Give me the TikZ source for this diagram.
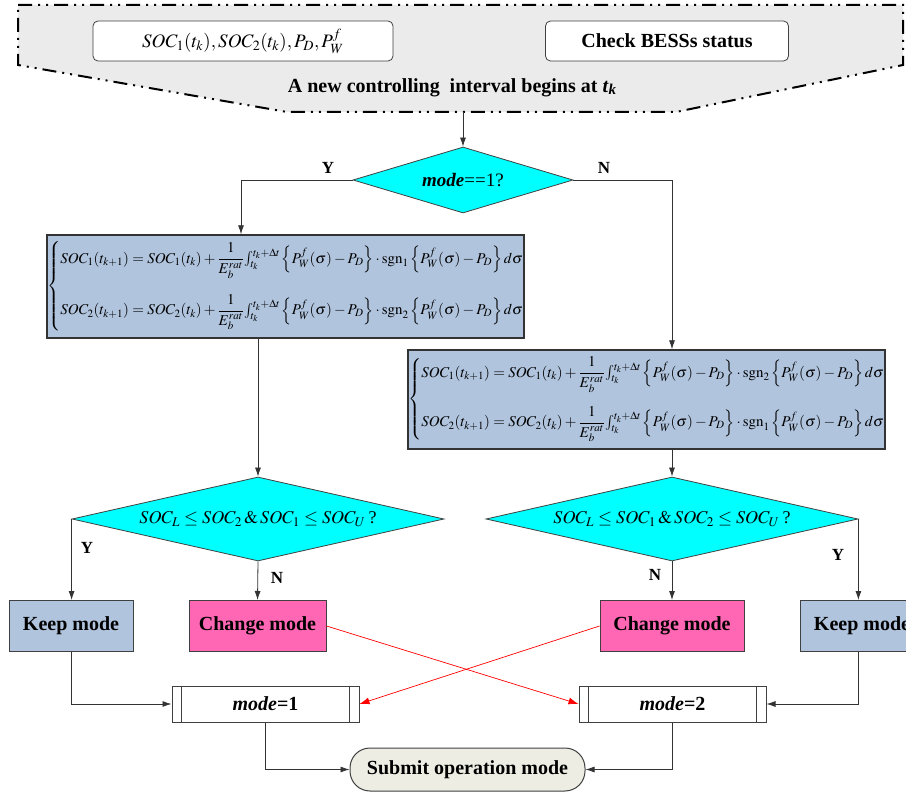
\documentclass[tikz,border=0pt]{standalone}
\usepackage{amsmath}
\usepackage{mathptmx}
\usepackage{fontspec}
\setmainfont{Liberation Serif}
\usetikzlibrary{shapes.geometric,arrows.meta,calc}
\definecolor{steel}{HTML}{B0C4DE}
\definecolor{hotpink}{HTML}{FF66B3}
\definecolor{aqua}{HTML}{00FFFF}
\definecolor{bannergray}{HTML}{EBEBEB}
\definecolor{subgray}{HTML}{EDEDE4}
\newcommand{\myeqline}[2]{SOC_{#1}(t_{k+1}) = SOC_{#1}(t_k) + \dfrac{1}{E_b^{rat}}{\textstyle\int_{t_k}^{t_k+\Delta t}}\left\{P_W^f(\sigma)-P_D\right\}\cdot\mathrm{sgn}_{#2}\left\{P_W^f(\sigma)-P_D\right\}d\sigma}
\begin{document}
\begin{tikzpicture}[x=1pt,y=-1pt,
  conn/.style={draw=black!80, line width=0.8pt, -{Latex[length=9pt,width=6pt]}},
  redconn/.style={draw=red, line width=0.7pt, -{Latex[length=10pt,width=7pt]}},
  box/.style={draw=black!75, line width=1pt, inner sep=0pt, font=\fontsize{20}{24}\selectfont\bfseries},
  inbox/.style={draw=black!75, line width=0.8pt, rounded corners=5pt, fill=white, inner sep=0pt},
  eqbox/.style={draw=black!80, line width=1.4pt, fill=steel, inner sep=0pt, font=\fontsize{15}{18}\selectfont},
  dia/.style={diamond, draw=black!75, line width=0.8pt, fill=aqua, inner sep=0pt},
  modebox/.style={box, fill=white, minimum width=187pt, minimum height=36pt},
  lab/.style={font=\fontsize{17}{20}\selectfont\bfseries},
]
\useasboundingbox (0,0) rectangle (906,794);

% banner
\filldraw[fill=bannergray, draw=black, line width=2pt,
  dash pattern=on 14pt off 6pt on 2pt off 6pt on 2pt off 6pt]
  (18,5) -- (903,5) -- (903,65) -- (676,112) -- (287,112) -- (18,65) -- cycle;
\coordinate (bb) at (463,112);
\node[inbox, minimum width=300pt, minimum height=40pt, font=\fontsize{19}{22}\selectfont] (soc) at (243,41)
  {$SOC_1(t_k), SOC_2(t_k), P_D, P_W^f$};
\node[inbox, minimum width=243pt, minimum height=40pt, font=\fontsize{20}{24}\selectfont\bfseries] (chk) at (667,41)
  {Check BESSs status};
\node[font=\fontsize{20}{24}\selectfont\bfseries] (title) at (452,88)
  {A new controlling\ \ interval begins at \textit{t}\raisebox{-2pt}{\fontsize{15}{15}\selectfont\textit{k}}};

% first decision
\node[dia, minimum width=220pt, minimum height=66pt, shape aspect=3.3, font=\fontsize{19}{22}\selectfont] (d1) at (463,180)
  {\textbf{\textit{mode}}==1?};
\node[lab] (y1) at (328,168) {Y};
\node[lab] (n1) at (604,168) {N};

% equation boxes
\node[eqbox, minimum width=475pt, minimum height=103pt] (eq1) at (285.5,286.5)
  {$\left\{\begin{array}{@{}l@{}}\myeqline{1}{1}\\[26pt]\myeqline{2}{2}\end{array}\right.$};
\node[eqbox, minimum width=463pt, minimum height=99pt] (eq2) at (646.5,399.5)
  {$\left\{\begin{array}{@{}l@{}}\myeqline{1}{2}\\[24pt]\myeqline{2}{1}\end{array}\right.$};

% second decisions
\node[dia, minimum width=372pt, minimum height=84pt, shape aspect=4.4, font=\fontsize{18}{22}\selectfont] (d2) at (258,519)
  {$SOC_L \le SOC_2\,\&\,SOC_1 \le SOC_U$\,?};
\node[dia, minimum width=372pt, minimum height=84pt, shape aspect=4.4, font=\fontsize{18}{22}\selectfont] (d3) at (672,519)
  {$SOC_L \le SOC_1\,\&\,SOC_2 \le SOC_U$\,?};
\node[lab] (y2) at (87,548) {Y};
\node[lab] (n2) at (277,578) {N};
\node[lab] (n3) at (655,575) {N};
\node[lab] (y3) at (838,555) {Y};

% action boxes
\node[box, fill=steel, minimum width=124pt, minimum height=51pt] (keepL) at (71,626) {Keep mode};
\node[box, fill=hotpink, minimum width=137pt, minimum height=51pt] (chL) at (257.5,626) {Change mode};
\node[box, fill=hotpink, minimum width=144pt, minimum height=51pt] (chR) at (672,626) {Change mode};
\node[box, fill=steel, minimum width=124pt, minimum height=51pt] (keepR) at (862,626) {Keep mode};

% mode boxes
\node[modebox] (m1) at (265.5,704) {\textit{mode}=1};
\node[modebox] (m2) at (672.5,704) {\textit{mode}=2};
\foreach \m in {m1,m2}{
  \draw[draw=black!75, line width=1pt] ([xshift=10pt]\m.north west) -- ([xshift=10pt]\m.south west);
  \draw[draw=black!75, line width=1pt] ([xshift=-10pt]\m.north east) -- ([xshift=-10pt]\m.south east);
}

% submit
\node[box, fill=subgray, rounded corners=20pt, minimum width=235pt, minimum height=43pt] (sub) at (467.5,769.5)
  {Submit operation mode};

% connectors
\draw[conn] (bb) -- (d1.north);
\draw[conn] (d1.west) -| (241,0 |- eq1.north);
\draw[conn] (d1.east) -| (d3.north |- eq2.north);
\draw[conn] (d2.north |- eq1.south) -- (d2.north);
\draw[conn] (d3.north |- eq2.south) -- (d3.north);
\draw[conn] (d2.west) -- (d2.west |- keepL.north);
\draw[conn] (d2.south) -- (chL.north);
\draw[conn] (d3.south) -- (d3.south |- chR.north);
\draw[conn] (d3.east) -- (d3.east |- keepR.north);
\draw[conn] (keepL.south) |- (m1.west);
\draw[conn] (d3.east |- keepR.south) |- (m2.east);
\draw[redconn] (chL.east) -- (m2.west);
\draw[redconn] (chR.west) -- (m1.east);
\draw[conn] (m1.south) |- (sub.west);
\draw[conn] (m2.south) |- (sub.east);
\end{tikzpicture}
\end{document}
